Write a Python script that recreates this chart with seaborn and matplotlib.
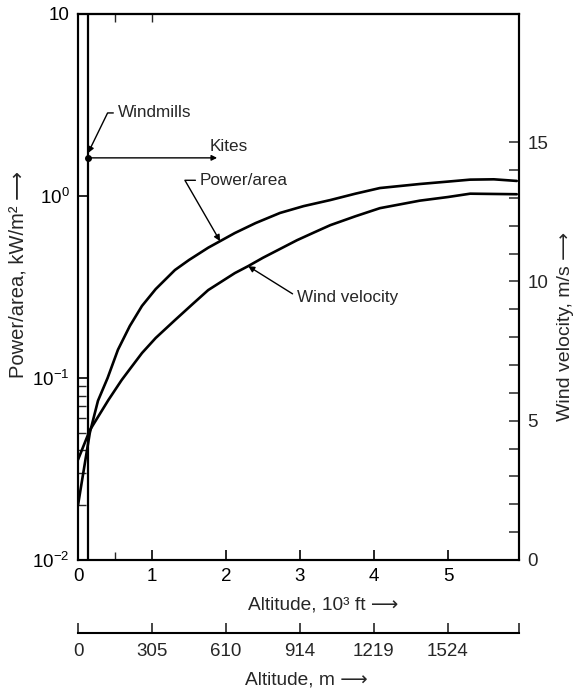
import numpy as np
import seaborn as sns
import matplotlib.pyplot as plt
from matplotlib.ticker import FixedLocator, NullFormatter

sns.set_style("ticks")
plt.rcParams['font.family'] = ['Liberation Sans', 'DejaVu Sans']
plt.rcParams['mathtext.fontset'] = 'custom'
plt.rcParams['mathtext.rm'] = 'Liberation Sans'
plt.rcParams['mathtext.it'] = 'Liberation Sans:italic'
plt.rcParams['font.size'] = 13

# ---------------- DATA ----------------
# altitude in 10^3 ft
alt_power = [0, 0.16, 0.27, 0.40, 0.54, 0.70, 0.865, 1.05, 1.31, 1.50, 1.76, 2.12, 2.40,
             2.73, 3.05, 3.41, 3.75, 4.08, 4.62, 5.00, 5.30, 5.62, 5.93]
power_kw_m2 = [0.020, 0.050, 0.075, 0.100, 0.143, 0.193, 0.249, 0.308, 0.392, 0.445, 0.52,
               0.626, 0.71, 0.807, 0.88, 0.95, 1.03, 1.106, 1.164, 1.20, 1.23, 1.235, 1.21]

alt_wind = [0, 0.16, 0.41, 0.59, 0.70, 0.865, 1.05, 1.31, 1.55, 1.76, 2.12, 2.30, 2.50,
            2.96, 3.20, 3.41, 3.75, 4.08, 4.62, 5.00, 5.30, 5.93]
wind_ms = [3.6, 4.66, 5.74, 6.46, 6.85, 7.43, 7.97, 8.61, 9.19, 9.69, 10.30, 10.55, 10.85,
           11.48, 11.77, 12.02, 12.34, 12.63, 12.90, 13.03, 13.15, 13.13]

ft_ticks = [0, 1, 2, 3, 4, 5]
meter_labels = [0, 305, 610, 914, 1219, 1524]
power_ticks = [0.01, 0.1, 1, 10]
power_ticklabels = ['10$^{-2}$', '10$^{-1}$', '10$^{0}$', '10']
power_minor = [0.02, 0.03, 0.04, 0.05, 0.06, 0.07, 0.08, 0.09]
wind_ticks = [0, 5, 10, 15]

windmill_alt = 0.135     # 10^3 ft
kites_alt = 1.88         # 10^3 ft
kites_power = 1.62       # level of kites line on the power axis

X_MAX = 5.96
TICK_FS = 13.5
NOTE_FS = 12.3

# ---------------- FIGURE ----------------
fig = plt.figure(figsize=(5.76, 6.9), dpi=100)
ax = fig.add_axes([78/576, 130/690, 441/576, 546/690])
ax2 = ax.twinx()

sns.lineplot(x=alt_power, y=power_kw_m2, ax=ax, color='black', lw=1.9)
ax.set_yscale('log')
sns.lineplot(x=alt_wind, y=wind_ms, ax=ax2, color='black', lw=1.9)

ax.set_xlim(0, X_MAX)
ax.set_ylim(0.01, 10)
ax2.set_ylim(0, 19.6)

ax.axvline(windmill_alt, color='black', lw=1.6)

# ticks
ax.set_xticks(ft_ticks, labels=[str(t) for t in ft_ticks])
ax.set_xticks([0.5], minor=True)
ax.set_yticks(power_ticks, labels=power_ticklabels)
ax.yaxis.set_minor_locator(FixedLocator(power_minor))
ax.yaxis.set_minor_formatter(NullFormatter())
ax.tick_params(which='major', direction='in', length=7.5, width=1.2, pad=6,
               colors='black', labelsize=TICK_FS)
ax.tick_params(which='minor', direction='in', length=6, width=1.0)

ax2.set_yticks(wind_ticks, labels=[str(t) for t in wind_ticks])
ax2.set_yticks(list(range(16)), minor=True)
ax2.tick_params(which='both', direction='in', length=7, width=1.1, pad=6, labelsize=TICK_FS)

top = ax.secondary_xaxis('top')
top.set_xticks([0.5, 1.0], labels=['', ''])
top.tick_params(direction='in', length=6, width=1.0)

for a in (ax, ax2):
    a.set_xlabel('')
    a.set_ylabel('')
    for s in a.spines.values():
        s.set_linewidth(1.5)
        s.set_color('black')
for s in top.spines.values():
    s.set_linewidth(1.5)

# ---------------- annotations ----------------
ax.plot([windmill_alt], [kites_power], 'o', color='black', ms=4)
ax.annotate('', xy=(kites_alt, kites_power), xytext=(windmill_alt, kites_power),
            arrowprops=dict(arrowstyle='-|>', color='black', lw=1.0,
                            mutation_scale=8, shrinkA=0, shrinkB=0))
ax.text(1.78, 1.88, 'Kites', ha='left', va='center', fontsize=NOTE_FS)

ax.annotate('Windmills', xy=(windmill_alt, 1.72), xytext=(0.54, 2.86),
            ha='left', va='center', fontsize=NOTE_FS,
            arrowprops=dict(arrowstyle='-|>', color='black', lw=1.0, mutation_scale=9,
                            connectionstyle='angle,angleA=0,angleB=64,rad=0',
                            shrinkA=1, shrinkB=0))

tip_x = 1.92
tip_y = 10 ** np.interp(tip_x, alt_power, np.log10(power_kw_m2))
ax.annotate('Power/area', xy=(tip_x, tip_y), xytext=(1.65, 1.22),
            ha='left', va='center', fontsize=NOTE_FS,
            arrowprops=dict(arrowstyle='-|>', color='black', lw=1.0, mutation_scale=9,
                            connectionstyle='angle,angleA=0,angleB=120,rad=0',
                            shrinkA=1, shrinkB=0))

tip_x = 2.30
tip_v = np.interp(tip_x, alt_wind, wind_ms)
ax2.annotate('Wind velocity', xy=(tip_x, tip_v), xytext=(2.96, 9.44),
             ha='left', va='center', fontsize=NOTE_FS,
             arrowprops=dict(arrowstyle='-|>', color='black', lw=1.0, mutation_scale=9,
                             connectionstyle='angle,angleA=0,angleB=-32,rad=0',
                             shrinkA=1, shrinkB=0))

# ---------------- metre axis ----------------
axm = fig.add_axes([78/576, 57/690, 441/576, 0.0001])
axm.set_xlim(0, X_MAX)
axm.set_yticks([])
m_pos = [m / 304.8 for m in meter_labels]
axm.set_xticks(m_pos + [X_MAX], labels=[str(m) for m in meter_labels] + [''])
axm.tick_params(direction='in', length=7.5, width=1.2, pad=7, labelsize=TICK_FS)
sns.despine(ax=axm, left=True)
axm.spines['bottom'].set_linewidth(1.5)
axm.spines['bottom'].set_color('black')
axm.patch.set_alpha(0)

# ---------------- axis labels ----------------
fig.text(18/576, 1 - 274/690, 'Power/area, kW/m² ⟶', rotation=90, ha='center', va='center',
         fontsize=14.5)
fig.text(565/576, 1 - 326/690, 'Wind velocity, m/s ⟶', rotation=90, ha='center', va='center',
         fontsize=14)
fig.text(323/576, 1 - 605/690, 'Altitude, 10³ ft ⟶', ha='center', va='center', fontsize=13.8)
fig.text(306/576, 1 - 680/690, 'Altitude, m ⟶', ha='center', va='center', fontsize=13.8)

fig.savefig('out.png', dpi=100)
